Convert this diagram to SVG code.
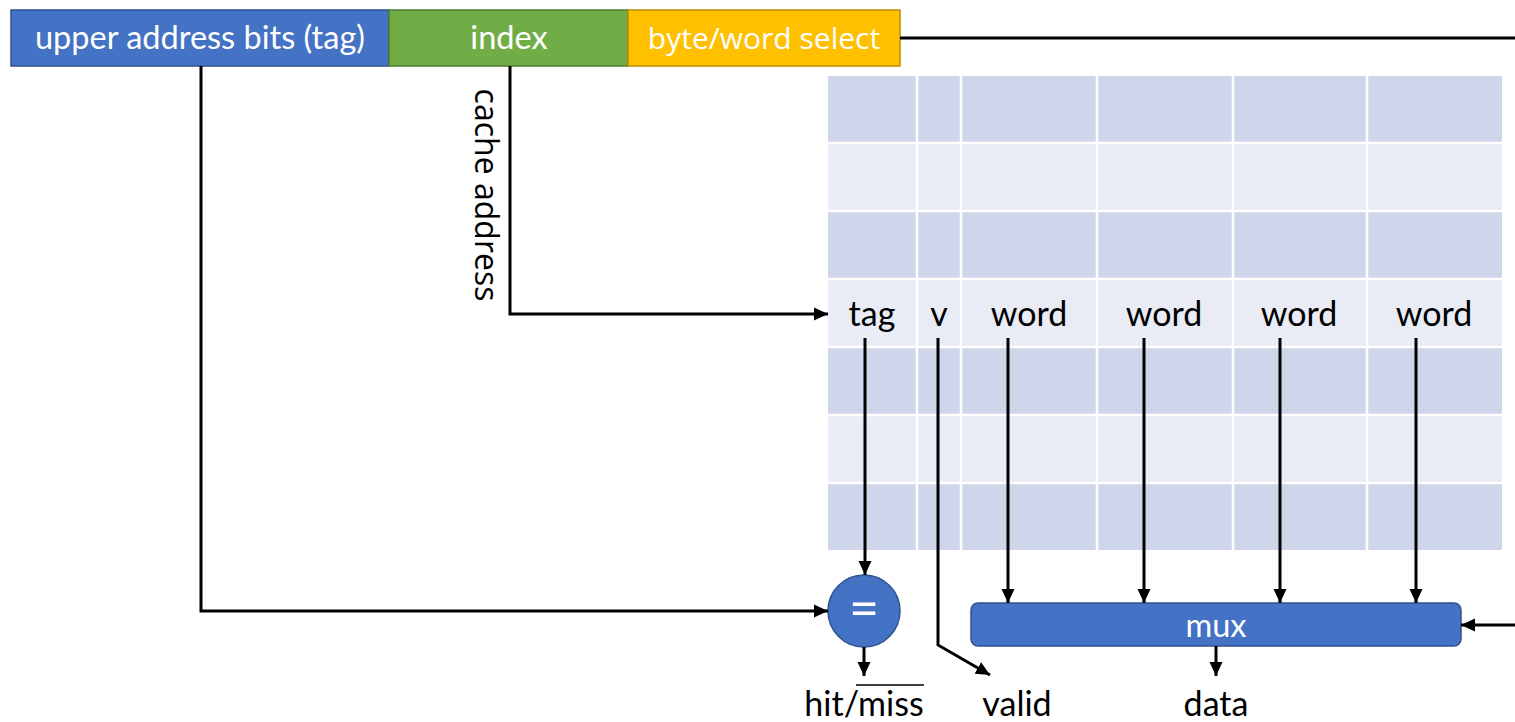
<svg xmlns="http://www.w3.org/2000/svg" width="1515" height="722" viewBox="0 0 1515 722">
<style>
.lbl{font-family:Lato,"Open Sans",sans-serif;font-size:34px;fill:#000;text-anchor:middle}
.wlbl{font-family:Lato,"Open Sans",sans-serif;font-size:32.5px;fill:#fff;text-anchor:middle}
.cal{font-family:"Open Sans","Noto Sans",sans-serif;text-anchor:middle}
.wire{fill:none;stroke:#000;stroke-width:3}
.dk{fill:#CFD5EA}
.lt{fill:#E9EBF5}
</style>
<defs>
<marker id="ah" markerUnits="userSpaceOnUse" markerWidth="15" markerHeight="15" refX="14" refY="7.5" orient="auto">
<path d="M0,1 L14,7.5 L0,14 z" fill="#000"/>
</marker>
</defs>

<g id="address">
<rect x="11" y="10" width="378" height="56" fill="#4472C4" stroke="#2F528F" stroke-width="1.5"/>
<text class="wlbl" x="200" y="49">upper address bits (tag)</text>
<rect x="389" y="10" width="239" height="56" fill="#70AD47" stroke="#507E32" stroke-width="1.5"/>
<text class="wlbl" x="509" y="49">index</text>
<rect x="628" y="10" width="272" height="56" fill="#FFC000" stroke="#BC8C00" stroke-width="1.5"/>
<text class="cal" x="764" y="49" fill="#fff" font-size="30">byte/word select</text>
</g>

<g id="cache">
<rect class="dk" x="828" y="76" width="674" height="66"/>
<rect class="lt" x="828" y="144" width="674" height="66"/>
<rect class="dk" x="828" y="212" width="674" height="66"/>
<rect class="lt" x="828" y="280" width="674" height="66"/>
<rect class="dk" x="828" y="348" width="674" height="66"/>
<rect class="lt" x="828" y="416" width="674" height="66"/>
<rect class="dk" x="828" y="484" width="674" height="66"/>
<g stroke="#fff" stroke-width="2.5">
<line x1="917" y1="76" x2="917" y2="550"/>
<line x1="961" y1="76" x2="961" y2="550"/>
<line x1="1097" y1="76" x2="1097" y2="550"/>
<line x1="1233" y1="76" x2="1233" y2="550"/>
<line x1="1367" y1="76" x2="1367" y2="550"/>
<line x1="828" y1="143" x2="1502" y2="143"/>
<line x1="828" y1="211" x2="1502" y2="211"/>
<line x1="828" y1="279" x2="1502" y2="279"/>
<line x1="828" y1="347" x2="1502" y2="347"/>
<line x1="828" y1="415" x2="1502" y2="415"/>
<line x1="828" y1="483" x2="1502" y2="483"/>
</g>
<text class="lbl" x="872" y="326">tag</text>
<text class="lbl" x="939" y="326">v</text>
<text class="lbl" x="1029" y="326">word</text>
<text class="lbl" x="1164" y="326">word</text>
<text class="lbl" x="1299" y="326">word</text>
<text class="lbl" x="1434" y="326">word</text>
</g>

<g id="compare">
<circle cx="864" cy="611" r="36" fill="#4472C4" stroke="#2F528F" stroke-width="1.5"/>
<text class="wlbl" x="864" y="627" style="font-size:52px">=</text>
</g>

<g id="mux">
<rect x="971" y="603" width="490" height="43" rx="7" fill="#4472C4" stroke="#2F528F" stroke-width="1.5"/>
<text class="wlbl" x="1216" y="637">mux</text>
</g>

<g id="outputs">
<text class="lbl" x="864" y="716">hit/miss</text>
<line x1="856" y1="685" x2="924" y2="685" stroke="#000" stroke-width="1.5"/>
<text class="lbl" x="1017" y="716">valid</text>
<text class="lbl" x="1216" y="716">data</text>
</g>

<g id="cacheaddr">
<text class="cal" x="0" y="0" fill="#000" font-size="32" transform="translate(475,195) rotate(90)">cache address</text>
</g>

<g id="connectors">
<line class="wire" x1="900" y1="38" x2="1515" y2="38"/>
<polyline class="wire" points="510,66 510,314 828,314" marker-end="url(#ah)"/>
<polyline class="wire" points="201,66 201,611 828,611" marker-end="url(#ah)"/>
<line class="wire" x1="865" y1="338" x2="865" y2="575" marker-end="url(#ah)"/>
<polyline class="wire" points="938,338 938,645 990,675" marker-end="url(#ah)"/>
<line class="wire" x1="1008" y1="338" x2="1008" y2="603" marker-end="url(#ah)"/>
<line class="wire" x1="1144" y1="338" x2="1144" y2="603" marker-end="url(#ah)"/>
<line class="wire" x1="1280" y1="338" x2="1280" y2="603" marker-end="url(#ah)"/>
<line class="wire" x1="1416" y1="338" x2="1416" y2="603" marker-end="url(#ah)"/>
<line class="wire" x1="1515" y1="625" x2="1461" y2="625" marker-end="url(#ah)"/>
<line class="wire" x1="864" y1="647" x2="864" y2="676" marker-end="url(#ah)"/>
<line class="wire" x1="1216" y1="646" x2="1216" y2="676" marker-end="url(#ah)"/>
</g>
</svg>
